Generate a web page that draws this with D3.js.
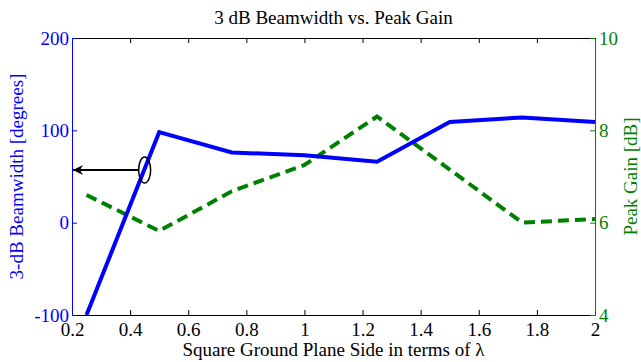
<!DOCTYPE html>
<html>
<head>
<meta charset="utf-8">
<script src="https://cdn.jsdelivr.net/npm/d3@7"></script>
<style>
  body { margin: 0; background: #fff; }
</style>
</head>
<body>
<script>
// data
const sideLambda = [0.25, 0.5, 0.75, 1.0, 1.25, 1.5, 1.75, 2.0];
const beamwidth = [-100, 98, 76, 73, 66, 109, 114, 109];
const peakGain = [6.6, 5.82, 6.68, 7.25, 8.3, 7.15, 6.0, 6.08];
const xTicks = [0.2, 0.4, 0.6, 0.8, 1, 1.2, 1.4, 1.6, 1.8, 2];
const leftTicks = [-100, 0, 100, 200];
const rightTicks = [4, 6, 8, 10];

let width = 641, height = 362;
let margin = { top: 38, right: 46, bottom: 47, left: 72 };
let fs = 19;
let serif = "'Liberation Serif', 'Times New Roman', serif";

let svg = d3.select("body").append("svg")
  .attr("width", width)
  .attr("height", height);

let x = d3.scaleLinear().domain([0.2, 2]).range([margin.left, width - margin.right]);
let yL = d3.scaleLinear().domain([-100, 200]).range([height - margin.bottom, margin.top]);
let yR = d3.scaleLinear().domain([4, 10]).range([height - margin.bottom, margin.top]);

// plain number labels, hyphen minus like matlab
let plain = d => String(d);

// bottom & top axes (ticks inward)
let xBottom = svg.append("g")
  .attr("transform", `translate(0,${height - margin.bottom})`)
  .call(d3.axisBottom(x).tickValues(xTicks).tickSizeInner(-5).tickSizeOuter(0).tickPadding(8).tickFormat(plain));
let xTop = svg.append("g")
  .attr("transform", `translate(0,${margin.top})`)
  .call(d3.axisTop(x).tickValues(xTicks).tickSizeInner(-5).tickSizeOuter(0).tickFormat(""));

let left = svg.append("g")
  .attr("transform", `translate(${margin.left},0)`)
  .call(d3.axisLeft(yL).tickValues(leftTicks).tickFormat(plain).tickSizeInner(-5).tickSizeOuter(0).tickPadding(3));
let right = svg.append("g")
  .attr("transform", `translate(${width - margin.right},0)`)
  .call(d3.axisRight(yR).tickValues(rightTicks).tickFormat(plain).tickSizeInner(-5).tickSizeOuter(0).tickPadding(4));

svg.selectAll("g").attr("font-family", serif).attr("font-size", fs);

[xBottom, xTop].forEach(g => {
  g.selectAll("path, line").attr("stroke", "#000");
  g.selectAll("text").attr("fill", "#000");
});
left.selectAll("path, line").attr("stroke", "#0000ff");
left.selectAll("text").attr("fill", "#0000ff");
right.selectAll("path, line").attr("stroke", "#008000");
right.selectAll("text").attr("fill", "#008000");

// lines
let lineL = d3.line().x((d, i) => x(sideLambda[i])).y(d => yL(d));
let lineR = d3.line().x((d, i) => x(sideLambda[i])).y(d => yR(d));

svg.append("path")
  .datum(peakGain)
  .attr("d", lineR)
  .attr("fill", "none")
  .attr("stroke", "#008000")
  .attr("stroke-width", 4)
  .attr("stroke-dasharray", "11,6");

svg.append("path")
  .datum(beamwidth)
  .attr("d", lineL)
  .attr("fill", "none")
  .attr("stroke", "#0000ff")
  .attr("stroke-width", 4);

// annotation: ellipse round the blue line with arrow to left axis
svg.append("defs").append("marker")
  .attr("id", "arrow")
  .attr("viewBox", "0 0 10 10")
  .attr("refX", 10).attr("refY", 5)
  .attr("markerUnits", "userSpaceOnUse")
  .attr("markerWidth", 12).attr("markerHeight", 10)
  .attr("orient", "auto")
  .append("path")
  .attr("d", "M0,0 L10,5 L0,10 L3,5 Z")
  .attr("fill", "#000");

svg.append("ellipse")
  .attr("cx", x(0.45)).attr("cy", yL(57))
  .attr("rx", 6).attr("ry", 13)
  .attr("fill", "none").attr("stroke", "#000").attr("stroke-width", 1.5);

svg.append("line")
  .attr("x1", x(0.45) - 6).attr("y1", yL(57))
  .attr("x2", x(0.2) + 1).attr("y2", yL(57))
  .attr("stroke", "#000").attr("stroke-width", 2)
  .attr("marker-end", "url(#arrow)");

// titles
svg.append("text")
  .attr("x", (margin.left + width - margin.right) / 2)
  .attr("y", 24)
  .attr("text-anchor", "middle")
  .attr("font-family", serif)
  .style("font-size", fs + "px")
  .text("3 dB Beamwidth vs. Peak Gain");

svg.append("text")
  .attr("x", (margin.left + width - margin.right) / 2)
  .attr("y", 356)
  .attr("text-anchor", "middle")
  .attr("font-family", serif)
  .style("font-size", fs + "px")
  .text("Square Ground Plane Side in terms of λ");

svg.append("text")
  .attr("transform", `translate(23,${(margin.top + height - margin.bottom) / 2}) rotate(-90)`)
  .attr("text-anchor", "middle")
  .attr("fill", "#0000ff")
  .attr("font-family", serif)
  .style("font-size", fs + "px")
  .text("3-dB Beamwidth [degrees]");

svg.append("text")
  .attr("transform", `translate(637,${(margin.top + height - margin.bottom) / 2}) rotate(-90)`)
  .attr("text-anchor", "middle")
  .attr("fill", "#008000")
  .attr("font-family", serif)
  .style("font-size", fs + "px")
  .text("Peak Gain [dB]");
</script>
</body>
</html>
